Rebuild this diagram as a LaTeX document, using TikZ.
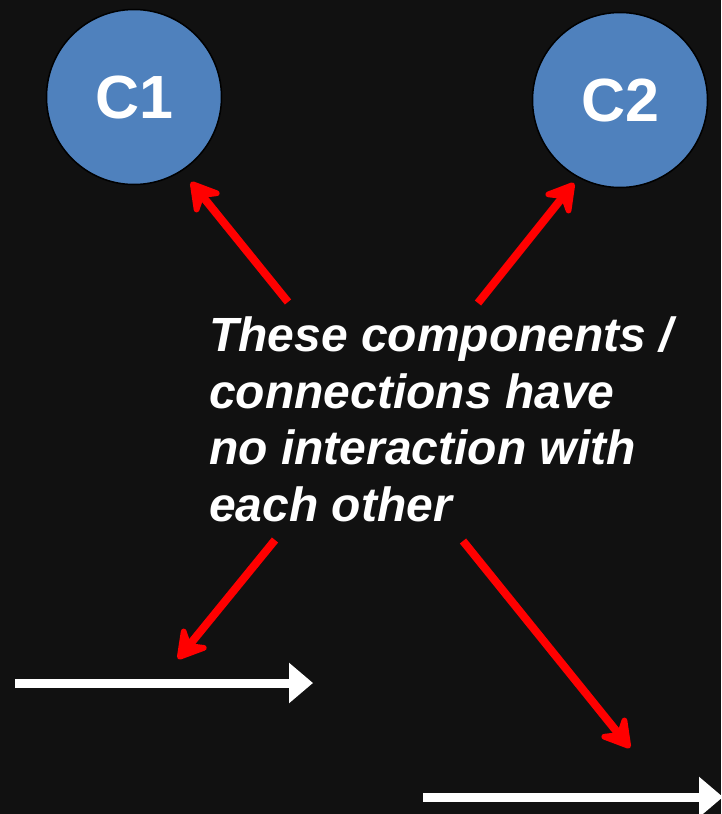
\documentclass[tikz,border=0pt]{standalone}
\usepackage{fontspec}
\setmainfont{Liberation Sans}
\usetikzlibrary{arrows.meta}
\definecolor{bg}{HTML}{111111}
\definecolor{cblue}{HTML}{4F81BD}
\begin{document}
\begin{tikzpicture}[x=1pt,y=-1pt,
  comp/.style={circle,draw=black,line width=1.5pt,fill=cblue,minimum size=175pt,inner sep=0pt,
    text=white,font=\fontsize{61}{64}\selectfont\bfseries},
  redarrow/.style={draw=red,line width=8pt,-{Stealth[length=36pt,width=42pt,inset=13pt,round]}},
  conn/.style={draw=white,line width=9pt,-{Triangle[length=24pt,width=39pt]}},
  note/.style={text=white,align=left,inner sep=0pt,anchor=base west,
    font=\fontsize{48}{56.5}\selectfont\bfseries\itshape}]
\useasboundingbox (0,0) rectangle (721,814);
\fill[bg] (0,0) rectangle (721,814);
\clip (0,0) rectangle (721,814);
\node[comp] (c1) at (134,97) {C1};
\node[comp] (c2) at (620,100) {C2};
\node[note] (txt) at (209,521) {These components /\\connections have\\no interaction with\\each other};
\coordinate (a1s) at (288,302);
\coordinate (a1e) at (191,182);
\coordinate (a2s) at (478,303);
\coordinate (a2e) at (574,183);
\coordinate (a3s) at (275,540);
\coordinate (a3e) at (178,659);
\coordinate (a4s) at (463,541);
\coordinate (a4e) at (630,748);
\draw[redarrow] (a1s) -- (a1e);
\draw[redarrow] (a2s) -- (a2e);
\draw[redarrow] (a3s) -- (a3e);
\draw[redarrow] (a4s) -- (a4e);
\coordinate (w1s) at (15,683);
\coordinate (w1e) at (313,683);
\coordinate (w2s) at (423,797);
\coordinate (w2e) at (723,797);
\draw[conn] (w1s) -- (w1e);
\draw[conn] (w2s) -- (w2e);
\end{tikzpicture}
\end{document}
